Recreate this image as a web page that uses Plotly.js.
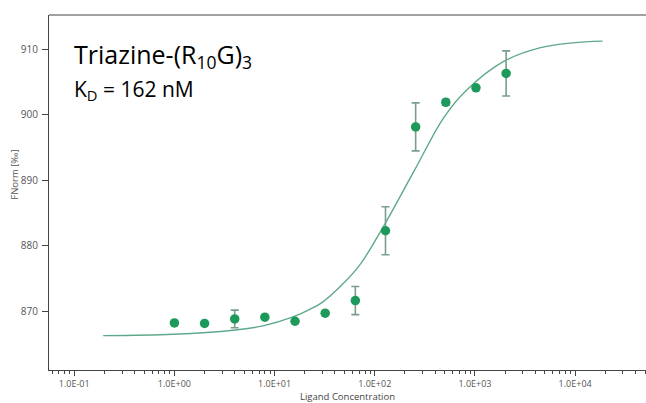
<!DOCTYPE html>
<html>
<head>
<meta charset="utf-8">
<script src="https://cdn.plot.ly/plotly-3.0.1.min.js"></script>
<style>html,body{margin:0;padding:0;background:#fff;}#chart{width:646px;height:403px;}</style>
</head>
<body>
<div id="chart"></div>
<script>
// Measured data (ligand concentration in nM, FNorm in per mille)
const concentrations = [1, 2, 4, 8, 16, 32, 64, 128, 256, 512, 1024, 2048];
const fnorm = [868.27, 868.2, 868.89, 869.15, 868.53, 869.76, 871.68, 882.32, 898.15, 901.9, 904.1, 906.29];
const fnormErr = [0, 0, 1.34, 0, 0, 0, 2.14, 3.66, 3.66, 0.45, 0, 3.44];

// Fit curve
const fitConc = [0.1945, 0.971, 3.85, 7.66, 15.26, 22.5, 30.4, 44.9, 71.0, 123.2, 251.1, 488.6, 828.3, 1937, 4426, 9441, 18793];
const fitValue = [866.34, 866.55, 867.16, 867.82, 869.19, 870.34, 871.48, 873.77, 877.13, 883.08, 891.63, 899.57, 903.77, 908.12, 910.18, 910.95, 911.22];

// Axis ticks
const decades = [0.1, 1, 10, 100, 1000, 10000];
const decadeLabels = ["1.0E-01", "1.0E+00", "1.0E+01", "1.0E+02", "1.0E+03", "1.0E+04"];
const minorDigits = [2, 3, 4, 5, 6, 7, 8, 9];
const yTicks = [870, 880, 890, 900, 910];

const minorVals = [];
[0.01].concat(decades).forEach(d => minorDigits.forEach(m => minorVals.push(d * m)));

const fam = "Open Sans, Liberation Sans, sans-serif";

const traces = [
  {
    x: fitConc, y: fitValue, type: "scatter", mode: "lines",
    line: {color: "#5ea98a", width: 1.4, shape: "spline", smoothing: 1},
    hoverinfo: "skip", showlegend: false
  },
  {
    x: concentrations, y: fnorm, type: "scatter", mode: "markers",
    marker: {color: "#1d9a5b", size: 9.5},
    error_y: {type: "data", array: fnormErr, visible: true, color: "#7a9e8c", thickness: 1.6, width: 4},
    showlegend: false
  }
];

const layout = {
  width: 646, height: 403,
  margin: {l: 49, r: 0, t: 15, b: 33},
  paper_bgcolor: "#fff", plot_bgcolor: "#fff",
  showlegend: false,
  xaxis: {
    type: "log", range: [Math.log10(0.056), Math.log10(51000)],
    tickmode: "array", tickvals: decades, ticktext: decadeLabels,
    ticks: "outside", ticklen: 5, tickwidth: 1, tickcolor: "#444",
    showline: true, linecolor: "#444", linewidth: 1,
    showgrid: false, zeroline: false,
    tickfont: {family: fam, size: 9, color: "#555"},
    minor: {tickmode: "array", tickvals: minorVals, ticks: "outside", ticklen: 3, tickwidth: 1, tickcolor: "#444", showgrid: false},
    title: {text: "Ligand Concentration", font: {family: fam, size: 9.5, color: "#444"}, standoff: 2}
  },
  yaxis: {
    range: [861.1, 915.2],
    tickmode: "array", tickvals: yTicks,
    ticks: "outside", ticklen: 6, tickwidth: 1, tickcolor: "#444",
    showline: true, linecolor: "#444", linewidth: 1,
    showgrid: false, zeroline: false,
    ticklabelstandoff: 2,
    tickfont: {family: fam, size: 10, color: "#555"}
  },
  shapes: [
    {type: "line", xref: "paper", yref: "paper", x0: 0, x1: 1, y0: 1, y1: 1, line: {color: "#444", width: 1}}
  ],
  annotations: [
    {
      xref: "paper", yref: "paper", x: -0.057, y: 0.55, xanchor: "center", yanchor: "middle",
      showarrow: false, textangle: -90,
      text: "FNorm [‰]",
      font: {family: fam, size: 9.5, color: "#555"}
    },
    {
      xref: "paper", yref: "paper", x: 0.0377, y: 0.8873, xanchor: "left", yanchor: "middle", align: "left",
      showarrow: false,
      text: "Triazine-(R<sub>10</sub>G)<sub>3</sub>",
      font: {family: fam, size: 25, color: "#000"}
    },
    {
      xref: "paper", yref: "paper", x: 0.0377, y: 0.790, xanchor: "left", yanchor: "middle", align: "left",
      showarrow: false,
      text: "K<sub>D</sub> = 162 nM",
      font: {family: fam, size: 21, color: "#000"}
    }
  ]
};

Plotly.newPlot("chart", traces, layout, {displayModeBar: false, staticPlot: true});
</script>
</body>
</html>
